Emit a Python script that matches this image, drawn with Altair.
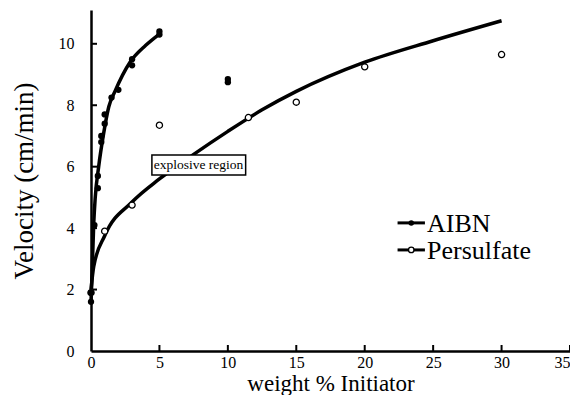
import altair as alt
import pandas as pd

# AIBN measured points
aibn_x = [0, 0, 0.25, 0.5, 0.5, 0.75, 0.75, 1, 1, 1.5, 2, 3, 3, 5, 5, 10, 10]
aibn_y = [1.6, 1.9, 4.1, 5.3, 5.7, 6.8, 7.0, 7.4, 7.7, 8.25, 8.5, 9.3, 9.5, 10.3, 10.4, 8.75, 8.85]

# Persulfate measured points
pers_x = [0, 1, 3, 5, 11.5, 15, 20, 30]
pers_y = [1.9, 3.9, 4.75, 7.35, 7.6, 8.1, 9.25, 9.65]

# fitted curves
aibn_fit_x = [0, 0.07, 0.2, 0.31, 0.56, 0.93, 1.3, 1.75, 2.85, 4.0, 4.95]
aibn_fit_y = [1.6, 2.4, 4.15, 5.0, 6.0, 7.1, 7.95, 8.45, 9.4, 9.95, 10.3]
pers_fit_x = [0, 0.2, 1, 3, 5, 7.5, 10, 12.5, 15, 20, 25, 30]
pers_fit_y = [2.0, 2.75, 3.75, 4.85, 5.6, 6.4, 7.15, 7.85, 8.45, 9.4, 10.1, 10.75]

x_ticks = [5, 10, 15, 20, 25, 30, 35]
y_ticks = [2, 4, 6, 8, 10]

note_text = ["explosive region"]
note_x = [7.85]
note_y = [6.05]
note_box_x = [4.45]
note_box_x2 = [11.3]
note_box_y = [5.73]
note_box_y2 = [6.38]

legend_names = ["AIBN", "Persulfate"]
legend_y = [4.17, 3.29]
legend_x1 = [22.4, 22.4]
legend_x2 = [24.4, 24.4]
legend_mx = [23.4, 23.4]
legend_tx = [24.55, 24.55]

FONT = "Liberation Serif"
W, H = 479, 341

xs = alt.Scale(domain=[0, 35], nice=False, zero=False)
ys = alt.Scale(domain=[0, 11.1], nice=False, zero=False)
x_axis = alt.Axis(values=[0, 5, 10, 15, 20, 25, 30, 35], grid=False, ticks=False,
                  labelPadding=3, labelFont=FONT, labelFontSize=16, labelFontWeight="normal",
                  labelAlign={"condition": {"test": "datum.value >= 35", "value": "right"}, "value": "center"},
                  labelColor="black", domainColor="black", domainWidth=2.5,
                  title="weight % Initiator", titleFont=FONT, titleFontSize=23,
                  titleFontWeight="normal", titleColor="black", titlePadding=2,
                  labelFlush=False)
y_axis = alt.Axis(values=[0, 2, 4, 6, 8, 10], grid=False, ticks=False,
                  labelPadding=17, labelFont=FONT, labelFontSize=16, labelFontWeight="normal",
                  labelColor="black", domainColor="black", domainWidth=2.5,
                  title="Velocity (cm/min)", titleFont=FONT, titleFontSize=27,
                  titleFontWeight="normal", titleColor="black", titlePadding=20)

X = lambda f: alt.X(f, type="quantitative", scale=xs, axis=x_axis)
Y = lambda f: alt.Y(f, type="quantitative", scale=ys, axis=y_axis)

aibn_pts = pd.DataFrame({"x": aibn_x, "y": aibn_y})
pers_pts = pd.DataFrame({"x": pers_x, "y": pers_y})
aibn_fit = pd.DataFrame({"x": aibn_fit_x, "y": aibn_fit_y})
pers_fit = pd.DataFrame({"x": pers_fit_x, "y": pers_fit_y})

base_line = alt.Chart(aibn_fit).mark_line(color="black", strokeWidth=3.5, interpolate="monotone").encode(x=X("x"), y=Y("y"))
pers_line = alt.Chart(pers_fit).mark_line(color="black", strokeWidth=3.5, interpolate="monotone").encode(x=X("x"), y=Y("y"))

aibn_marks = alt.Chart(aibn_pts).mark_point(shape="circle", filled=True, color="black", size=40, opacity=1).encode(x=X("x"), y=Y("y"))
pers_marks = alt.Chart(pers_pts).mark_point(shape="circle", filled=True, fill="white", stroke="black", strokeWidth=1.3, size=38, opacity=1).encode(x=X("x"), y=Y("y"))

xt = alt.Chart(pd.DataFrame({"x": x_ticks})).mark_rule(color="black", strokeWidth=2).encode(
    x=X("x"), y=alt.value(H), y2=alt.value(H - 6))
yt = alt.Chart(pd.DataFrame({"y": y_ticks})).mark_rule(color="black", strokeWidth=2).encode(
    y=Y("y"), x=alt.value(0), x2=alt.value(6))

box = alt.Chart(pd.DataFrame({"x": note_box_x, "x2": note_box_x2, "y": note_box_y, "y2": note_box_y2})).mark_rect(
    fill="white", stroke="black", strokeWidth=1.5).encode(x=X("x"), x2="x2", y=Y("y"), y2="y2")
note = alt.Chart(pd.DataFrame({"x": note_x, "y": note_y, "t": note_text})).mark_text(
    font=FONT, fontSize=13.5, color="black", align="center", baseline="middle").encode(x=X("x"), y=Y("y"), text="t:N")

leg = pd.DataFrame({"n": legend_names, "y": legend_y, "x1": legend_x1, "x2": legend_x2, "mx": legend_mx, "tx": legend_tx})
leg_line = alt.Chart(leg).mark_rule(color="black", strokeWidth=3).encode(x=X("x1"), x2="x2", y=Y("y"))
leg_aibn = alt.Chart(leg.iloc[[0]]).mark_point(shape="circle", filled=True, color="black", size=30, opacity=1).encode(x=X("mx"), y=Y("y"))
leg_pers = alt.Chart(leg.iloc[[1]]).mark_point(shape="circle", filled=True, fill="white", stroke="black", strokeWidth=1.3, size=30, opacity=1).encode(x=X("mx"), y=Y("y"))
leg_text = alt.Chart(leg).mark_text(font=FONT, fontSize=26, color="black", align="left", baseline="middle", dy=1).encode(
    x=X("tx"), y=Y("y"), text="n:N")

chart = alt.layer(
    xt, yt, pers_line, base_line, pers_marks, aibn_marks, box, note,
    leg_line, leg_aibn, leg_pers, leg_text
).properties(
    width=W, height=H,
    autosize=alt.AutoSizeParams(type="none"),
    padding={"left": 83, "top": 2, "right": 0, "bottom": 44},
    background="white",
).configure_view(stroke=None)

chart.save("out.html", embed_options={"renderer": "svg", "actions": False})
